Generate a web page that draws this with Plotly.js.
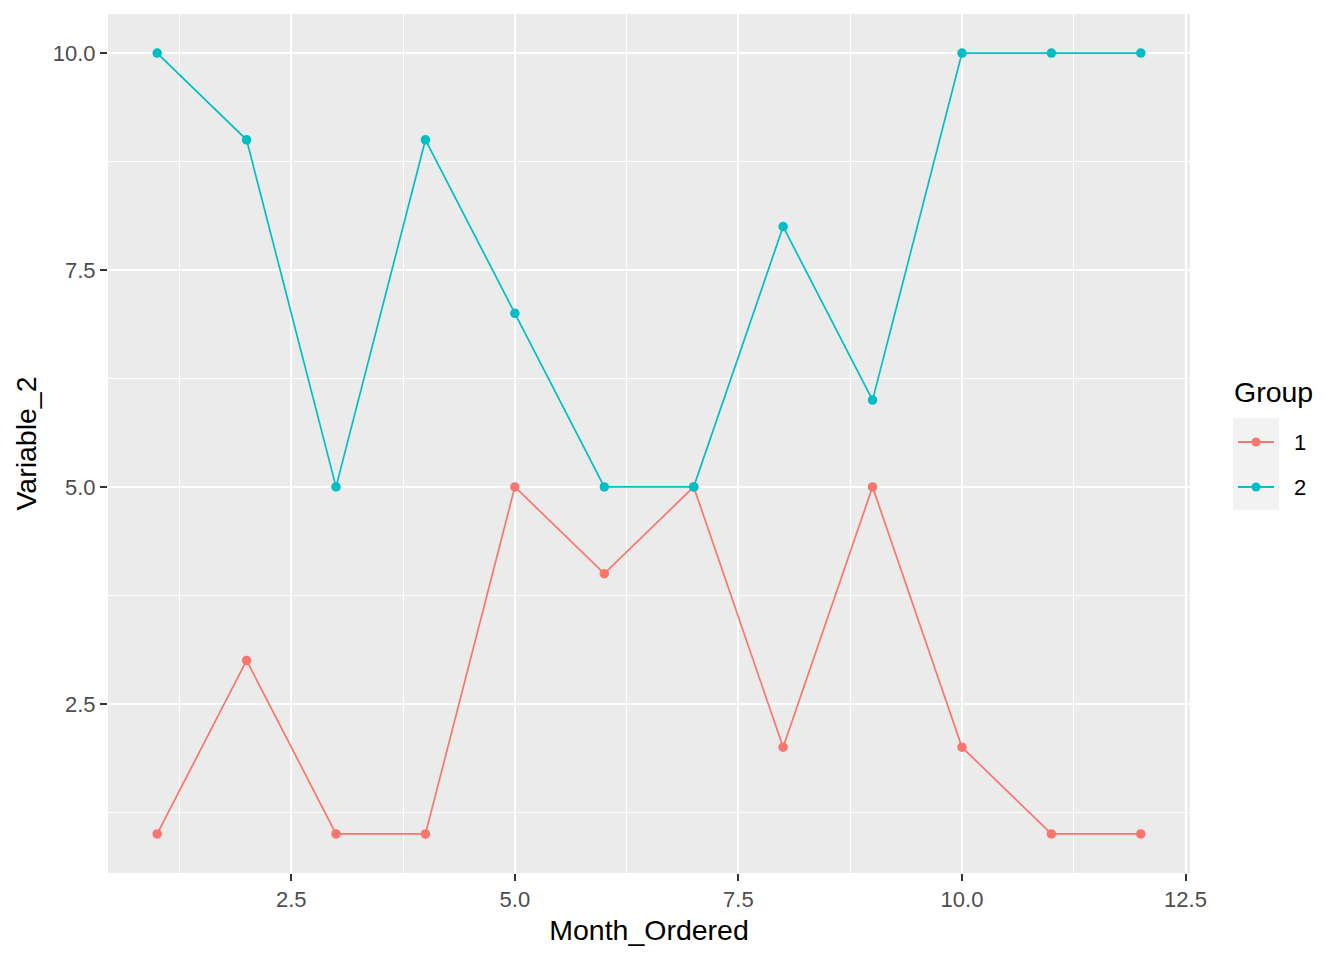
<!DOCTYPE html>
<html>
<head>
<meta charset="utf-8">
<script src="https://cdn.plot.ly/plotly-3.0.1.min.js"></script>
<style>html,body{margin:0;padding:0;background:#fff;}#chart{width:1344px;height:960px;}</style>
</head>
<body>
<div id="chart"></div>
<script>
var months = [1,2,3,4,5,6,7,8,9,10,11,12];
var group1 = [1,3,1,1,5,4,5,2,5,2,1,1];
var group2 = [10,9,5,9,7,5,5,8,6,10,10,10];
var groupNames = ["1","2"];
var colors = ["#F8766D","#00BFC4"];
var FONT = 'Liberation Sans, Arial, sans-serif';

function trace(y, i){
  return {x: months, y: y, type:'scatter', mode:'lines+markers', name: groupNames[i],
    line:{color:colors[i], width:1.7}, marker:{color:colors[i], size:9.5}, showlegend:false, hoverinfo:'x+y'};
}
var data = [trace(group1,0), trace(group2,1)];

var L=108, R=1190, T=14, B=873;
function px(x){return (x-L)/(R-L);}
function py(y){return (B-y)/(B-T);}

var shapes = [
  {type:'rect', xref:'paper', yref:'paper', x0:px(1233), x1:px(1279), y0:py(510), y1:py(418), fillcolor:'#F2F2F2', line:{width:0}, layer:'below'}
];
var annotations = [
  {xref:'paper', yref:'paper', x:px(1232), y:py(392), text:'Group', showarrow:false, xanchor:'left', yanchor:'middle', font:{size:28.5, color:'#000', family:FONT}}
];
var keyY = [442, 487];
for (var i=0;i<2;i++){
  shapes.push({type:'line', xref:'paper', yref:'paper', x0:px(1238), x1:px(1274), y0:py(keyY[i]), y1:py(keyY[i]), line:{color:colors[i], width:1.8}});
  shapes.push({type:'circle', xref:'paper', yref:'paper', x0:px(1251.5), x1:px(1260.5), y0:py(keyY[i]+4.5), y1:py(keyY[i]-4.5), fillcolor:colors[i], line:{width:0}});
  annotations.push({xref:'paper', yref:'paper', x:px(1292), y:py(keyY[i]), text:groupNames[i], showarrow:false, xanchor:'left', yanchor:'middle', font:{size:22, color:'#000', family:FONT}});
}

var axisCommon = {
  showline:false, zeroline:false, gridcolor:'#FFFFFF', gridwidth:2,
  ticks:'outside', ticklen:7, tickwidth:2, tickcolor:'#333333',
  tickfont:{size:22, color:'#4D4D4D', family:FONT}
};

var layout = {
  width:1344, height:960,
  margin:{l:L, r:1344-R, t:T, b:960-B},
  paper_bgcolor:'#FFFFFF', plot_bgcolor:'#EBEBEB',
  font:{family:FONT},
  xaxis: Object.assign({}, axisCommon, {
    range:[0.45,12.55], tick0:0, dtick:2.5, tickformat:'.1f', automargin:false,
    minor:{tick0:0, dtick:1.25, showgrid:true, gridcolor:'#FFFFFF', gridwidth:1, ticks:''},
    title:{text:'Month_Ordered', font:{size:28.5, color:'#000', family:FONT}, standoff:8}
  }),
  yaxis: Object.assign({}, axisCommon, {
    range:[0.55,10.45], tick0:0, dtick:2.5, tickformat:'.1f', automargin:false,
    minor:{tick0:0, dtick:1.25, showgrid:true, gridcolor:'#FFFFFF', gridwidth:1, ticks:''},
    title:{text:'Variable_2', font:{size:28.5, color:'#000', family:FONT}, standoff:7}
  }),
  shapes: shapes,
  annotations: annotations,
  showlegend:false
};

Plotly.newPlot('chart', data, layout, {displayModeBar:false, staticPlot:true});
</script>
</body>
</html>
